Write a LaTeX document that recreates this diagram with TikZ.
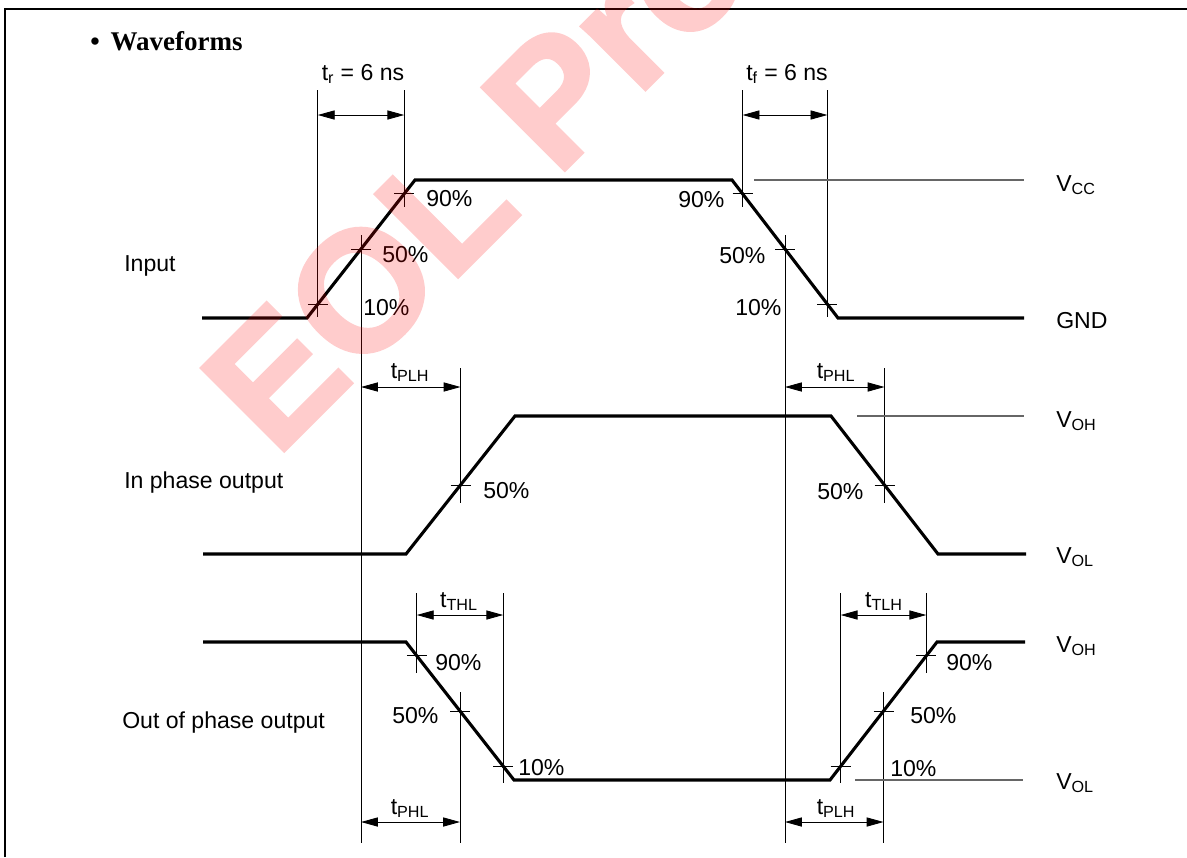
\documentclass[tikz,border=0pt]{standalone}
\usepackage{fontspec}
\setmainfont{Liberation Sans}
\newfontfamily\headfont{Liberation Serif}
\newfontfamily\wmfont{Liberation Sans}[BoldFeatures={FakeBold=2}]
\usetikzlibrary{calc}
\usetikzlibrary{arrows.meta}
\tikzstyle{wave} = [line width=2.2pt, line join=miter]
\tikzstyle{dimline} = [line width=0.6pt]
\tikzstyle{refline} = [line width=0.9pt, black!60]
\tikzstyle{frameline} = [line width=1.4pt]
\tikzstyle{dimarrow} = [line width=0.6pt, {Triangle[length=12pt,width=6.5pt]}-{Triangle[length=12pt,width=6.5pt]}]
\tikzstyle{lbl} = [inner sep=0, anchor=base west, font=\fontsize{16.4}{19}\selectfont]
\tikzstyle{tlbl} = [lbl, anchor=base]
\tikzstyle{wmark} = [inner sep=0, anchor=base west, rotate=45, text=red, font=\wmfont\fontsize{121}{130}\selectfont\bfseries]

\begin{document}
\begin{tikzpicture}[x=0.025cm, y=-0.025cm]
    \useasboundingbox (0,0) rectangle (1187,857);

    % frame
    \coordinate (fr_a) at (5,857);
    \coordinate (fr_b) at (5,9);
    \coordinate (fr_c) at (1187,9);
    \draw[frameline] (fr_a) -- (fr_b) -- (fr_c);

    \node[inner sep=0, anchor=base west, font=\headfont\bfseries\fontsize{19.2}{22}\selectfont] (title) at (90,50) {\textbullet\hspace{0.4em}Waveforms};

    % waveform corners
    \coordinate (in_s) at (202,318);
    \coordinate (in_r0) at (307,318);
    \coordinate (in_r1) at (415,180);
    \coordinate (in_f0) at (732,180);
    \coordinate (in_f1) at (838,318);
    \coordinate (in_e) at (1024,318);

    \coordinate (ip_s) at (203,554);
    \coordinate (ip_r0) at (406,554);
    \coordinate (ip_r1) at (515,416);
    \coordinate (ip_f0) at (831,416);
    \coordinate (ip_f1) at (938,554);
    \coordinate (ip_e) at (1026,554);

    \coordinate (op_s) at (203,642);
    \coordinate (op_f0) at (406,642);
    \coordinate (op_f1) at (514,780);
    \coordinate (op_r0) at (830,780);
    \coordinate (op_r1) at (937,642);
    \coordinate (op_e) at (1025,642);

    \draw[wave] (in_s) -- (in_r0) -- (in_r1) -- (in_f0) -- (in_f1) -- (in_e);
    \draw[wave] (ip_s) -- (ip_r0) -- (ip_r1) -- (ip_f0) -- (ip_f1) -- (ip_e);
    \draw[wave] (op_s) -- (op_f0) -- (op_f1) -- (op_r0) -- (op_r1) -- (op_e);

    % crossing points
    \coordinate (in_r10) at ($(in_r0)!0.1!(in_r1)$);
    \coordinate (in_r50) at ($(in_r0)!0.5!(in_r1)$);
    \coordinate (in_r90) at ($(in_r0)!0.9!(in_r1)$);
    \coordinate (in_f90) at ($(in_f0)!0.1!(in_f1)$);
    \coordinate (in_f50) at ($(in_f0)!0.5!(in_f1)$);
    \coordinate (in_f10) at ($(in_f0)!0.9!(in_f1)$);
    \coordinate (ip_r50) at ($(ip_r0)!0.5!(ip_r1)$);
    \coordinate (ip_f50) at ($(ip_f0)!0.5!(ip_f1)$);
    \coordinate (op_f90) at ($(op_f0)!0.1!(op_f1)$);
    \coordinate (op_f50) at ($(op_f0)!0.5!(op_f1)$);
    \coordinate (op_f10) at ($(op_f0)!0.9!(op_f1)$);
    \coordinate (op_r10) at ($(op_r0)!0.1!(op_r1)$);
    \coordinate (op_r50) at ($(op_r0)!0.5!(op_r1)$);
    \coordinate (op_r90) at ($(op_r0)!0.9!(op_r1)$);

    \foreach \p in {in_r10,in_r50,in_r90,in_f90,in_f50,in_f10,ip_r50,ip_f50,op_f90,op_f50,op_f10,op_r10,op_r50,op_r90}
        \draw[dimline] ($(\p)+(-10,0)$) -- ($(\p)+(10,0)$);

    % rows for dimension lines
    \coordinate (row_top) at (0,90);
    \coordinate (row_tr) at (0,115);
    \coordinate (row_pd) at (0,368);
    \coordinate (row_pda) at (0,387);
    \coordinate (row_tt) at (0,593);
    \coordinate (row_tta) at (0,615);
    \coordinate (row_bota) at (0,822);
    \coordinate (row_bot) at (0,843);

    \draw[dimline] (in_r10 |- row_top) -- ($(in_r10)+(0,13)$);
    \draw[dimline] (in_r90 |- row_top) -- ($(in_r90)+(0,13)$);
    \draw[dimline] (in_f90 |- row_top) -- ($(in_f90)+(0,13)$);
    \draw[dimline] (in_f10 |- row_top) -- ($(in_f10)+(0,13)$);
    \draw[dimline] ($(in_r50)+(0,-14)$) -- (in_r50 |- row_bot);
    \draw[dimline] ($(in_f50)+(0,-14)$) -- (in_f50 |- row_bot);
    \draw[dimline] (ip_r50 |- row_pd) -- ($(ip_r50)+(0,18)$);
    \draw[dimline] (ip_f50 |- row_pd) -- ($(ip_f50)+(0,18)$);
    \draw[dimline] (op_f90 |- row_tt) -- ($(op_f90)+(0,17)$);
    \draw[dimline] (op_f10 |- row_tt) -- ($(op_f10)+(0,17)$);
    \draw[dimline] (op_r10 |- row_tt) -- ($(op_r10)+(0,17)$);
    \draw[dimline] (op_r90 |- row_tt) -- ($(op_r90)+(0,17)$);
    \draw[dimline] ($(op_f50)+(0,-19)$) -- (op_f50 |- row_bot);
    \draw[dimline] ($(op_r50)+(0,-19)$) -- (op_r50 |- row_bot);

    \draw[dimarrow] (in_r10 |- row_tr) -- (in_r90 |- row_tr);
    \draw[dimarrow] (in_f90 |- row_tr) -- (in_f10 |- row_tr);
    \draw[dimarrow] (in_r50 |- row_pda) -- (ip_r50 |- row_pda);
    \draw[dimarrow] (in_f50 |- row_pda) -- (ip_f50 |- row_pda);
    \draw[dimarrow] (op_f90 |- row_tta) -- (op_f10 |- row_tta);
    \draw[dimarrow] (op_r10 |- row_tta) -- (op_r90 |- row_tta);
    \draw[dimarrow] (in_r50 |- row_bota) -- (op_f50 |- row_bota);
    \draw[dimarrow] (in_f50 |- row_bota) -- (op_r50 |- row_bota);

    % reference levels
    \coordinate (vcc_a) at (754,180);
    \coordinate (vcc_b) at (1024,180);
    \coordinate (voh_a) at (857,416);
    \coordinate (voh_b) at (1024,416);
    \coordinate (vol_a) at (855,780);
    \coordinate (vol_b) at (1023,780);
    \draw[refline] (vcc_a) -- (vcc_b);
    \draw[refline] (voh_a) -- (voh_b);
    \draw[refline] (vol_a) -- (vol_b);

    % timing labels
    \node[tlbl] (lbl_tr) at (363,80) {t\textsubscript{r} = 6 ns};
    \node[tlbl] (lbl_tf) at (787,80) {t\textsubscript{f} = 6 ns};
    \node[tlbl] (lbl_tplh1) at (410,378) {t\textsubscript{PLH}};
    \node[tlbl] (lbl_tphl1) at (836,378) {t\textsubscript{PHL}};
    \node[tlbl] (lbl_tthl) at (459,607) {t\textsubscript{THL}};
    \node[tlbl] (lbl_ttlh) at (884,607) {t\textsubscript{TLH}};
    \node[tlbl] (lbl_tphl2) at (410,814) {t\textsubscript{PHL}};
    \node[tlbl] (lbl_tplh2) at (836,814) {t\textsubscript{PLH}};

    % percent labels
    \node[lbl] (pc_in_r90) at (426,206) {90\%};
    \node[lbl] (pc_in_r50) at (382,262) {50\%};
    \node[lbl] (pc_in_r10) at (363,315) {10\%};
    \node[lbl] (pc_in_f90) at (678,207) {90\%};
    \node[lbl] (pc_in_f50) at (719,263) {50\%};
    \node[lbl] (pc_in_f10) at (735,315) {10\%};
    \node[lbl] (pc_ip_r50) at (483,498) {50\%};
    \node[lbl] (pc_ip_f50) at (817,499) {50\%};
    \node[lbl] (pc_op_f90) at (435,670) {90\%};
    \node[lbl] (pc_op_f50) at (392,723) {50\%};
    \node[lbl] (pc_op_f10) at (518,775) {10\%};
    \node[lbl] (pc_op_r90) at (946,670) {90\%};
    \node[lbl] (pc_op_r50) at (910,723) {50\%};
    \node[lbl] (pc_op_r10) at (890,776) {10\%};

    % signal names and levels
    \node[lbl] (name_in) at (124,271) {Input};
    \node[lbl] (name_ip) at (124,488) {In phase output};
    \node[lbl] (name_op) at (122,728) {Out of phase output};
    \node[lbl] (lv_vcc) at (1056,191) {V\textsubscript{CC}};
    \node[lbl] (lv_gnd) at (1056,328) {GND};
    \node[lbl] (lv_voh1) at (1056,427) {V\textsubscript{OH}};
    \node[lbl] (lv_vol1) at (1056,563) {V\textsubscript{OL}};
    \node[lbl] (lv_voh2) at (1056,652) {V\textsubscript{OH}};
    \node[lbl] (lv_vol2) at (1056,789) {V\textsubscript{OL}};

    % watermark
    \begin{scope}[transparency group, opacity=0.2]
        \clip (0,0) rectangle (1187,857);
        \node[wmark] (wm) at (276,459) {EOL Product};
    \end{scope}
\end{tikzpicture}
\end{document}
